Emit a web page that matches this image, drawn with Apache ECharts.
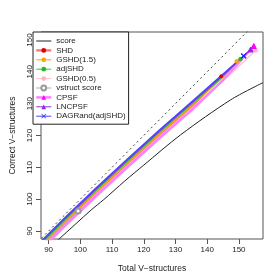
<!DOCTYPE html>
<html><head><meta charset="utf-8">
<script src="https://cdn.jsdelivr.net/npm/echarts@6/dist/echarts.min.js"></script>
<style>html,body{margin:0;padding:0;background:#fff}#c{width:280px;height:280px}</style>
</head><body><div id="c"></div>
<script>
var tickValues = [90, 100, 110, 120, 130, 140, 150];
var legendNames = ['score','SHD','GSHD(1.5)','adjSHD','GSHD(0.5)','vstruct score','CPSF','LNCPSF','DAGRand(adjSHD)'];
var diagonal = [[80, 80], [160, 160]];
var scoreData = [[90,84.6],[93.3,87.5],[103.4,96.6],[107.3,99.8],[114,105.7],[120,110.7],[131.6,120.2],[147.4,131.2],[157.6,136.6]];
var shdData = [[85,82.6],[95,92.5],[105,102.0],[115,111.2],[125,120.2],[135,128.9],[144.4,138.6]];
var gshd15Data = [[85,83.0],[95,92.9],[105,102.4],[115,111.6],[125,120.6],[135,129.3],[145,138.3],[149.3,143.3]];
var adjshdData = [[85,83.4],[95,93.3],[105,102.8],[115,112.0],[125,121.0],[135,129.7],[145,138.5],[150.5,144.0]];
var gshd05Data = [[85,82.1],[95,92.0],[105,101.5],[115,110.7],[125,119.7],[135,128.4],[145,137.2],[155.3,146.7]];
var vstructData = [[85,82.4],[95,92.3],[99.3,96.3]];
var cpsfData = [[85,81.6],[95,91.5],[105,101.0],[115,110.2],[125,119.2],[135,127.9],[145,137.4],[154.7,148.1]];
var lncpsfData = [[85,83.8],[95,93.7],[105,103.2],[115,112.4],[125,121.4],[135,130.1],[145,138.9],[153.7,147.0]];
var dagrandData = [[85,84.2],[95,94.1],[105,103.6],[115,112.8],[125,121.8],[135,130.5],[145,139.3],[151.5,145.0]];

var xPath = 'path://M0,1L1,0L5,4L9,0L10,1L6,5L10,9L9,10L5,6L1,10L0,9L4,5Z';
function pts(arr){
  return arr.map(function(p, i){
    return i === arr.length - 1 ? {value: p} : {value: p, symbol: 'none'};
  });
}
function ser(name, data, lineColor, markColor, symbol, size, width){
  return {
    name: name, type: 'line', data: pts(data), symbol: symbol, symbolSize: size,
    showSymbol: true, showAllSymbol: true, clip: true, z: 3,
    lineStyle: {color: lineColor, width: width},
    itemStyle: {color: markColor, borderColor: markColor},
    emphasis: {disabled: true}
  };
}
function leg(name, w, hideMark){
  var o = {name: name, lineStyle: {width: w}};
  if (hideMark) o.itemStyle = {opacity: 0};
  return o;
}
var chart = echarts.init(document.getElementById('c'), null, {renderer: 'canvas'});
var font = 'Liberation Sans, Arial, sans-serif';
chart.setOption({
  animation: false,
  grid: {left: 33, right: 17, top: 32, bottom: 41, show: true, borderColor: '#555', borderWidth: 1},
  xAxis: {
    type: 'value', min: 87.6, max: 157.6,
    name: 'Total V\u2212structures', nameLocation: 'middle', nameGap: 25,
    nameTextStyle: {fontSize: 8.5, color: '#222', fontFamily: font},
    axisLine: {show: false}, splitLine: {show: false},
    axisTick: {show: true, length: 5, customValues: tickValues, lineStyle: {color: '#555'}},
    axisLabel: {customValues: tickValues, fontSize: 8, color: '#222', margin: 7, fontFamily: font}
  },
  yAxis: {
    type: 'value', min: 87.5, max: 152.5,
    name: 'Correct V\u2212structures', nameLocation: 'middle', nameGap: 24,
    nameTextStyle: {fontSize: 8.5, color: '#222', fontFamily: font},
    axisLine: {show: false}, splitLine: {show: false},
    axisTick: {show: true, length: 5, customValues: tickValues, lineStyle: {color: '#555'}},
    axisLabel: {customValues: tickValues, fontSize: 8, color: '#222', margin: 7, rotate: 90, fontFamily: font}
  },
  legend: {
    data: [leg('score', 1, true), leg('SHD', 2.5), leg('GSHD(1.5)', 1), leg('adjSHD', 1), leg('GSHD(0.5)', 1),
           leg('vstruct score', 1), leg('CPSF', 2.5), leg('LNCPSF', 1), leg('DAGRand(adjSHD)', 1)],
    orient: 'vertical', left: 33, top: 32,
    itemWidth: 15, itemHeight: 6, itemGap: 1.4,
    padding: [5, 3, 4, 2], borderColor: '#222', borderWidth: 1, backgroundColor: '#fff',
    textStyle: {fontSize: 8, color: '#222', fontFamily: font, lineHeight: 8},
    selectedMode: false, z: 10
  },
  series: [
    {name: 'diag', type: 'line', data: diagonal, symbol: 'none', silent: true, z: 2,
     lineStyle: {color: '#444', width: 1, type: [2, 3]}},
    {name: 'score', type: 'line', data: scoreData, symbol: 'none', smooth: 0.3, z: 2,
     lineStyle: {color: '#222', width: 1}, itemStyle: {color: '#222'}},
    ser('SHD', shdData, '#ff7a7a', '#e00000', 'circle', 3, 2.5),
    ser('GSHD(1.5)', gshd15Data, '#ffa500', '#ffa500', 'circle', 3.5, 1.3),
    ser('adjSHD', adjshdData, '#32cd32', '#22bb22', 'circle', 3.5, 1.3),
    ser('GSHD(0.5)', gshd05Data, '#ffc0cb', '#ffb6c1', 'circle', 3.5, 1.3),
    ser('vstruct score', vstructData, '#aaaaaa', '#999999', 'emptyCircle', 5, 1.3),
    ser('CPSF', cpsfData, '#ff80ff', '#ff00ff', 'triangle', 5, 2.5),
    ser('LNCPSF', lncpsfData, '#8a2be2', '#8a2be2', 'triangle', 5, 1.3),
    ser('DAGRand(adjSHD)', dagrandData, '#4444ff', '#2222ff', xPath, 5, 1.3)
  ]
});
</script></body></html>
